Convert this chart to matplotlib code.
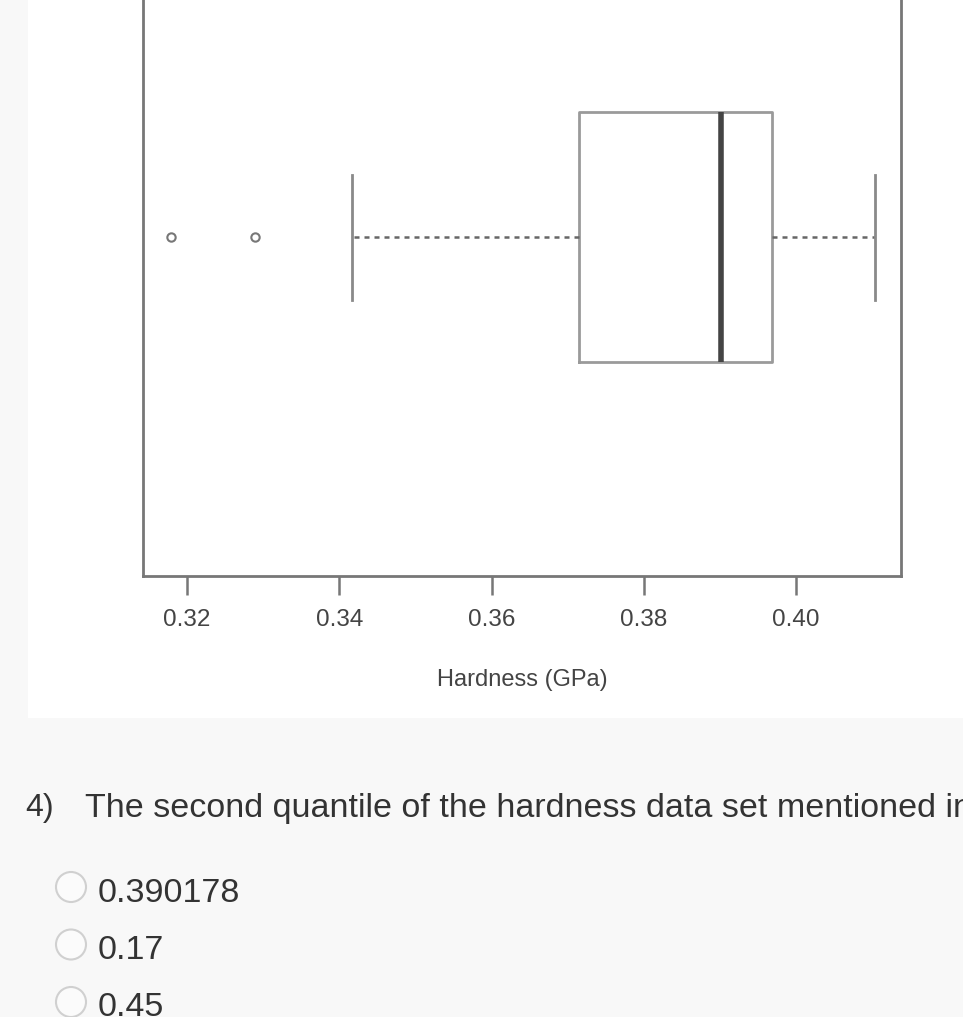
import matplotlib
matplotlib.use("Agg")
import matplotlib.pyplot as plt
from matplotlib.patches import Rectangle, Circle

# boxplot summary (Hardness, GPa)
whisker_low = 0.3417
q1 = 0.3715
median = 0.390178
q3 = 0.3969
whisker_high = 0.4104
outliers = [0.3179, 0.3289]

xticks = [0.32, 0.34, 0.36, 0.38, 0.40]
xlabel = "Hardness (GPa)"

question = "The second quantile of the hardness data set mentioned in"
question_no = "4)"
choices = ["0.390178", "0.17", "0.45"]

W, H = 963, 1017
plt.rcParams['font.family'] = ['Liberation Sans', 'DejaVu Sans']

fig = plt.figure(figsize=(W / 100, H / 100), dpi=100, facecolor='#f8f8f8')

# page layer in pixel coordinates
page = fig.add_axes([0, 0, 1, 1], zorder=0)
page.set_xlim(0, W)
page.set_ylim(H, 0)
page.axis('off')
page.add_patch(Rectangle((28, 0), W - 28, 718, facecolor='white', edgecolor='none'))

page.text(25, 808, question_no, fontsize=23, color='#333333', va='center', ha='left')
page.text(85, 808, question, fontsize=24.5, color='#333333', va='center', ha='left')
for i, c in enumerate(choices):
    cy = 887 + i * 57.5
    page.add_patch(Circle((71, cy), 15, facecolor='#fbfbfb', edgecolor='#d0d0d0', lw=1.5))
    page.text(98, cy + 6, c, fontsize=24.5, color='#333333', va='center', ha='left')

# plot axes
left, right, bottom = 143, 901, 576
ax = fig.add_axes([left / W, 1 - bottom / H, (right - left) / W, bottom / H], zorder=1)
ax.set_facecolor('none')

stats = [dict(whislo=whisker_low, q1=q1, med=median, q3=q3, whishi=whisker_high,
              fliers=outliers)]
ax.bxp(stats, positions=[1], widths=0.8, capwidths=0.4, vert=False,
       boxprops=dict(color='#9a9a9a', lw=2),
       medianprops=dict(color='#444444', lw=4, solid_capstyle='butt'),
       whiskerprops=dict(color='#666666', lw=1.8, linestyle=(0, (2, 2))),
       capprops=dict(color='#8a8a8a', lw=2),
       flierprops=dict(marker='o', markersize=6, markerfacecolor='none',
                       markeredgecolor='#777777', markeredgewidth=1.5))

ax.set_xlim(0.31422, 0.41379)
ax.set_ylim(1 - (576 - 237) / 312.5, 1 + 237 / 312.5)

for s in ['left', 'right', 'bottom']:
    ax.spines[s].set_color('#777777')
    ax.spines[s].set_linewidth(2)
ax.spines['top'].set_visible(False)

ax.set_yticks([])
ax.set_xticks(xticks)
ax.set_xticklabels(["%.2f" % t for t in xticks])
ax.tick_params(axis='x', length=14, width=1.8, color='#777777', pad=10,
               labelsize=17.5, labelcolor='#444444')
ax.set_xlabel(xlabel, fontsize=17, color='#444444', labelpad=27)

fig.savefig('out.png', dpi=100, facecolor=fig.get_facecolor())
